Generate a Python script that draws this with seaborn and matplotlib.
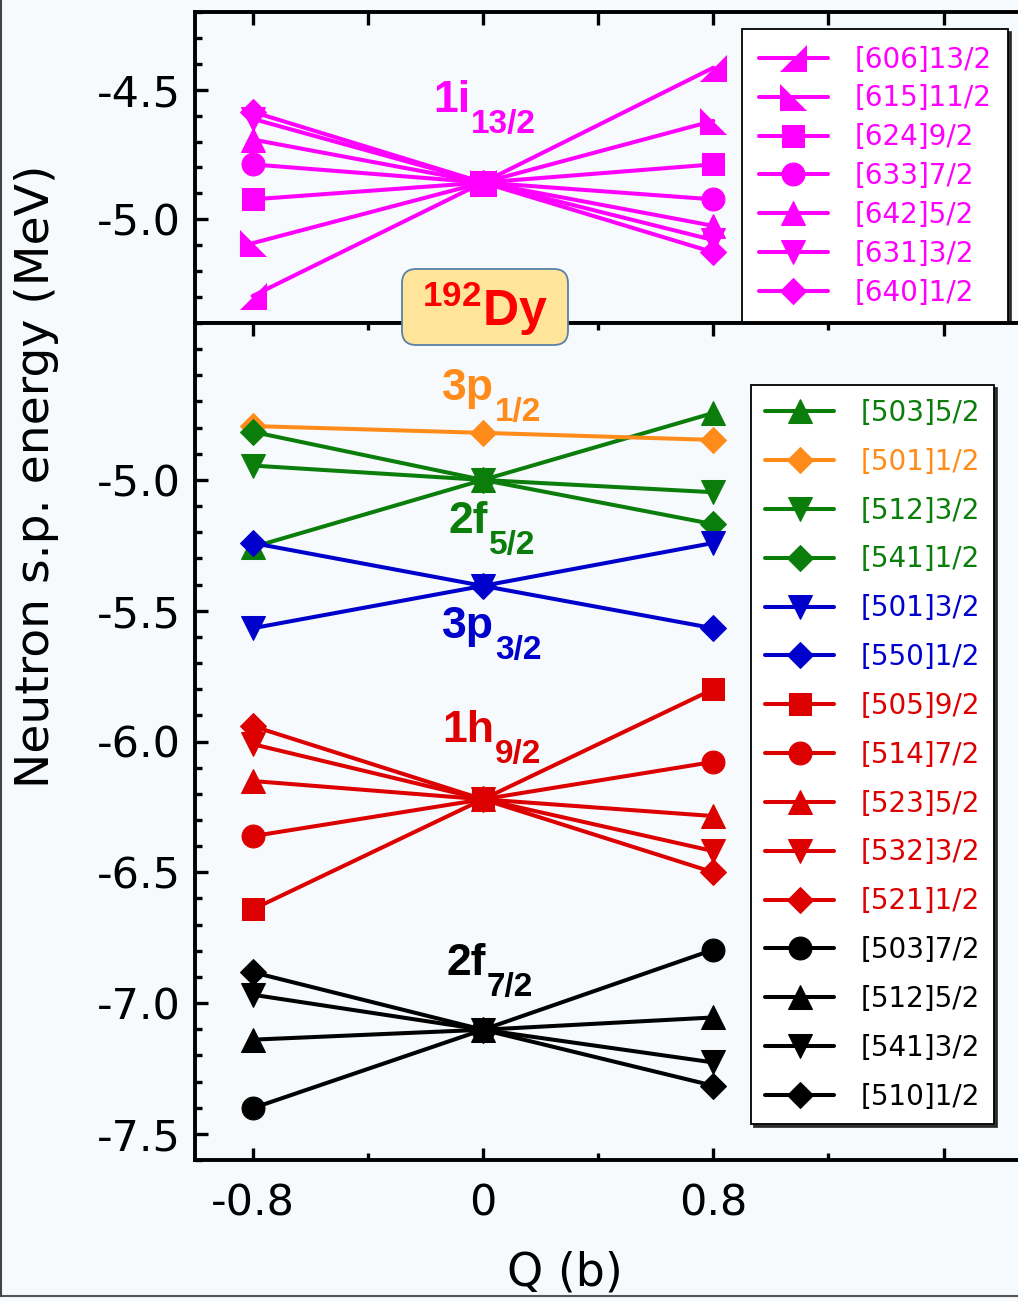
import matplotlib
matplotlib.use('Agg')
import matplotlib.pyplot as plt
import seaborn as sns
from matplotlib.ticker import MultipleLocator, FixedLocator, FormatStrFormatter
from matplotlib.lines import Line2D
from matplotlib.patches import FancyBboxPatch

# ---- data ----
Q = [-0.8, 0.0, 0.8]

# 1i13/2 panel
top_labels = ['[606]13/2', '[615]11/2', '[624]9/2', '[633]7/2', '[642]5/2', '[631]3/2', '[640]1/2']
top_left = [-5.296, -5.092, -4.923, -4.788, -4.692, -4.612, -4.585]
top_mid = [-4.858, -4.858, -4.858, -4.858, -4.858, -4.858, -4.858]
top_right = [-4.415, -4.620, -4.788, -4.923, -5.025, -5.080, -5.127]

# lower panel
bot_labels = ['[503]5/2', '[501]1/2', '[512]3/2', '[541]1/2', '[501]3/2', '[550]1/2',
              '[505]9/2', '[514]7/2', '[523]5/2', '[532]3/2', '[521]1/2',
              '[503]7/2', '[512]5/2', '[541]3/2', '[510]1/2']
bot_left = [-5.257, -4.794, -4.945, -4.816, -5.567, -5.241,
            -6.642, -6.362, -6.151, -6.010, -5.941,
            -7.402, -7.140, -6.968, -6.882]
bot_mid = [-5.000, -4.820, -5.000, -5.000, -5.405, -5.405,
           -6.221, -6.221, -6.221, -6.221, -6.221,
           -7.102, -7.102, -7.102, -7.102]
bot_right = [-4.744, -4.847, -5.047, -5.169, -5.241, -5.567,
             -5.800, -6.078, -6.285, -6.419, -6.500,
             -6.796, -7.055, -7.227, -7.316]

top_yticks = [-5.0, -4.5]
bot_yticks = [-7.5, -7.0, -6.5, -6.0, -5.5, -5.0]
xticks = [-0.8, 0, 0.8, 1.6]
xticklabels = ['-0.8', '0', '0.8', '']

# orbital labels: main, subscript, x, y (data)
orb_text = ['1i', '3p', '2f', '3p', '1h', '2f']
orb_sub = ['13/2', '1/2', '5/2', '3/2', '9/2', '7/2']
orb_x = [-0.174, -0.142, -0.118, -0.142, -0.142, -0.125]
orb_y = [-4.586, -4.694, -5.203, -5.604, -6.002, -6.892]

# ---- styles ----
MAG = '#ff00ff'
ORA = '#ff8c1a'
GRN = '#0b7d0b'
BLU = '#0000cc'
RED = '#dd0000'
BLK = '#000000'
BG = '#f6fafc'

tri_ur = [(-1, -1), (1, -1), (1, 1)]
tri_ll = [(-1, 1), (-1, -1), (1, -1)]
top_markers = [tri_ur, tri_ll, 's', 'o', '^', 'v', 'D']
top_colors = [MAG] * 7
bot_markers = ['^', 'D', 'v', 'D', 'v', 'D', 's', 'o', '^', 'v', 'D', 'o', '^', 'v', 'D']
bot_colors = [GRN, ORA, GRN, GRN, BLU, BLU, RED, RED, RED, RED, RED, BLK, BLK, BLK, BLK]
orb_colors = [MAG, ORA, GRN, BLU, RED, BLK]

msize = {'s': 16, 'o': 16.5, '^': 17, 'v': 17, 'D': 13.5}

sns.set_theme(style='ticks')
plt.rcParams['font.family'] = ['DejaVu Sans']
plt.rcParams['text.color'] = 'black'
plt.rcParams['axes.labelcolor'] = 'black'
plt.rcParams['xtick.color'] = 'black'
plt.rcParams['ytick.color'] = 'black'
plt.rcParams['axes.unicode_minus'] = False
plt.rcParams['mathtext.fontset'] = 'custom'
plt.rcParams['mathtext.bf'] = 'Liberation Sans:bold'
plt.rcParams['mathtext.rm'] = 'Liberation Sans'

W, H = 1018, 1301
fig = plt.figure(figsize=(W / 100, H / 100), dpi=100, facecolor=BG)


def px_axes(l, t, r, b):
    return fig.add_axes([l / W, 1 - b / H, (r - l) / W, (b - t) / H])


ax_top = px_axes(195, 12, 1030, 323)
ax_bot = px_axes(195, 323, 1030, 1160)


def draw_panel(ax, labels, left, mid, right, markers, colors):
    handles = []
    for i, lab in enumerate(labels):
        m = markers[i]
        ms = msize.get(m, 19) if isinstance(m, str) else 19
        sns.lineplot(x=Q, y=[left[i], mid[i], right[i]], ax=ax, color=colors[i],
                     marker=m, markersize=ms, markeredgecolor=colors[i],
                     linewidth=2.9, sort=False, errorbar=None, legend=False)
        ln = ax.lines[-1]
        ln.set_label(lab)
        handles.append(ln)
    return handles


h_top = draw_panel(ax_top, top_labels, top_left, top_mid, top_right, top_markers, top_colors)
h_bot = draw_panel(ax_bot, bot_labels, bot_left, bot_mid, bot_right, bot_markers, bot_colors)

for ax in (ax_top, ax_bot):
    ax.set_facecolor(BG)
    ax.set_xlim(-1.0, 1.9)
    ax.set_xticks(xticks)
    ax.set_xticklabels(xticklabels)
    ax.xaxis.set_minor_locator(MultipleLocator(0.4))
    ax.yaxis.set_minor_locator(MultipleLocator(0.1))
    ax.tick_params(which='both', direction='in', top=True, right=True, width=2.4,
                   labelsize=31, colors='black', pad=10)
    ax.tick_params(which='major', length=9)
    ax.tick_params(which='minor', length=5)
    for s in ax.spines.values():
        s.set_linewidth(2.8)
        s.set_color('black')
    ax.set_xlabel('')
    ax.set_ylabel('')

ax_top.set_ylim(-5.4, -4.2)
ax_bot.set_ylim(-7.6, -4.4)
ax_top.yaxis.set_major_locator(FixedLocator(top_yticks))
ax_bot.yaxis.set_major_locator(FixedLocator(bot_yticks))
ax_top.yaxis.set_major_formatter(FormatStrFormatter('%.1f'))
ax_bot.yaxis.set_major_formatter(FormatStrFormatter('%.1f'))
ax_top.tick_params(which='both', bottom=False, labelbottom=False)
ax_top.tick_params(axis='x', which='minor', length=9)
ax_bot.tick_params(axis='x', pad=16)

# legends
leg_kw = dict(loc='upper left', bbox_transform=fig.transFigure, borderaxespad=0,
              frameon=True, fancybox=False, fontsize=20, labelcolor='linecolor',
              handlelength=2.5, handletextpad=0.95,
              shadow={'color': '#222222', 'alpha': 0.9})
leg1 = ax_top.legend(handles=h_top, bbox_to_anchor=(742 / W, 1 - 29 / H),
                     labelspacing=0.39, borderpad=0.6, **leg_kw)
leg2 = ax_bot.legend(handles=h_bot, bbox_to_anchor=(751 / W, 1 - 385 / H),
                     labelspacing=0.75, borderpad=0.5, **leg_kw)
for lg in (leg1, leg2):
    lg.get_frame().set_edgecolor('black')
    lg.get_frame().set_linewidth(1.3)
    lg.get_frame().set_facecolor('white')
    lg.get_frame().set_alpha(1)

# orbital labels
for i in range(len(orb_text)):
    ax = ax_top if i == 0 else ax_bot
    t = ax.text(orb_x[i], orb_y[i], orb_text[i], color=orb_colors[i], fontsize=32,
                fontweight='bold', family='Liberation Sans', ha='left', va='baseline', zorder=6)
    ax.annotate(orb_sub[i], xy=(1, orb_y[i]), xycoords=(t, 'data'), xytext=(0.5, -15),
                textcoords='offset points', color=orb_colors[i], fontsize=24,
                fontweight='bold', family='Liberation Sans', ha='left', va='baseline', zorder=6)

# 192Dy box
box = FancyBboxPatch((402 / W, 1 - 345 / H), 166 / W, 76 / H,
                     boxstyle='round,pad=0,rounding_size=0.014', mutation_aspect=W / H,
                     transform=fig.transFigure, fc='#ffe599', ec='#5b80a5', lw=1.3, zorder=9)
fig.add_artist(box)
fig.text(485 / W, 1 - 309 / H, r'$^{\mathbf{192}}\mathbf{Dy}$', color='#ff0000', fontsize=36,
         ha='center', va='center', zorder=10)

# axis titles
fig.text(37 / W, 1 - 476 / H, 'Neutron s.p. energy (MeV)', rotation=90, fontsize=34,
         ha='center', va='center')
fig.text(565 / W, 1 - 1250 / H, 'Q (b)', fontsize=33, ha='center', va='top', zorder=10)

# outer frame lines
fig.add_artist(Line2D([1 / W, 1 / W], [1 - 1296 / H, 1], transform=fig.transFigure,
                      color='#444444', lw=1.5))
fig.add_artist(Line2D([0, 1], [1 - 1296 / H, 1 - 1296 / H], transform=fig.transFigure,
                      color='#555555', lw=1.5, zorder=1))

fig.savefig('out.png', dpi=100, facecolor=BG)
